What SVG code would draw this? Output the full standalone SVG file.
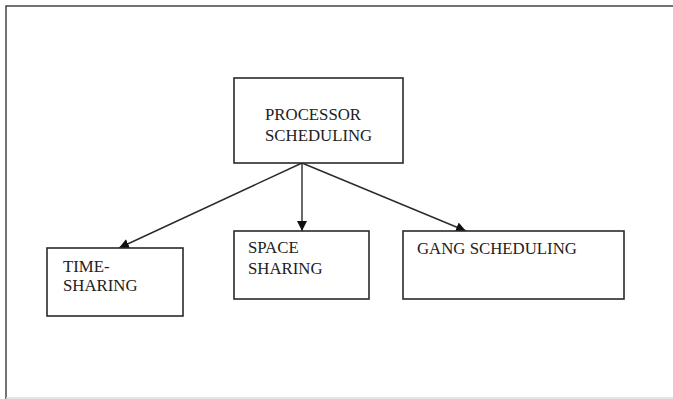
<svg xmlns="http://www.w3.org/2000/svg" width="673" height="399" viewBox="0 0 673 399">
<style>
.box{fill:#fff;stroke:#2a2a2a;stroke-width:1.6}
.t{font-family:"Liberation Serif","Times New Roman",serif;font-size:16.8px;fill:#222}
.c{stroke:#2a2a2a;stroke-width:1.4;fill:none}
</style>
<defs>
<marker id="ah" viewBox="0 0 10 10" refX="10" refY="5" markerWidth="10" markerHeight="10" markerUnits="userSpaceOnUse" orient="auto">
<path d="M0,0 L10,5 L0,10 z" fill="#111"/>
</marker>
</defs>
<rect x="0" y="0" width="673" height="399" fill="#fff"/>
<path d="M6,399 V6 H673" fill="none" stroke="#444" stroke-width="1.5"/>
<line x1="6" y1="398" x2="673" y2="398" stroke="#ddd" stroke-width="1.5"/>
<g id="connectors">
<line class="c" x1="302" y1="163" x2="119" y2="248" marker-end="url(#ah)"/>
<line class="c" x1="302" y1="163" x2="302" y2="231" marker-end="url(#ah)"/>
<line class="c" x1="302" y1="163" x2="466" y2="231" marker-end="url(#ah)"/>
</g>
<g id="processor">
<rect class="box" x="234" y="78" width="169" height="85"/>
<text class="t" x="265" y="120">PROCESSOR</text>
<text class="t" x="265" y="141">SCHEDULING</text>
</g>
<g id="time">
<rect class="box" x="47" y="248" width="136" height="68"/>
<text class="t" x="63" y="272">TIME-</text>
<text class="t" x="63" y="291">SHARING</text>
</g>
<g id="space">
<rect class="box" x="234" y="231" width="135" height="68"/>
<text class="t" x="248" y="253">SPACE</text>
<text class="t" x="248" y="274">SHARING</text>
</g>
<g id="gang">
<rect class="box" x="403" y="231" width="221" height="68"/>
<text class="t" x="417" y="254">GANG SCHEDULING</text>
</g>
</svg>
